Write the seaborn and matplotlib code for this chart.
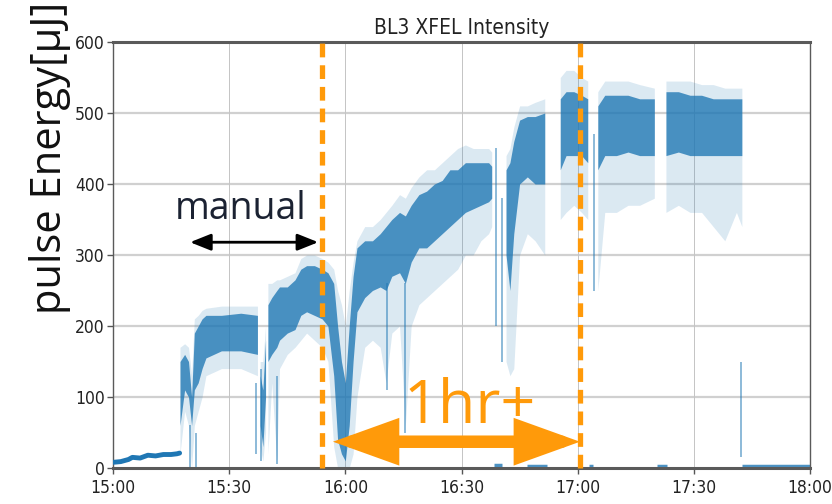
import matplotlib
matplotlib.use('Agg')
import matplotlib.pyplot as plt
from matplotlib import font_manager
import seaborn as sns
import numpy as np
import pandas as pd

# minutes after 15:00
base_t = [0, 2, 4, 5, 7, 9, 11, 13, 15, 16.5, 17.2]
base_v = [8, 9, 12, 15, 14, 18, 17, 19, 19, 20, 21]

# dense band (core) and sparse envelope (outer), per segment
band_seg = [1, 1, 1, 1, 1, 1, 1, 1, 1, 1, 1,
            2, 2, 2,
            3, 3, 3, 3, 3, 3, 3, 3, 3, 3, 3, 3, 3, 3, 3, 3, 3, 3, 3, 3, 3, 3, 3, 3, 3, 3, 3, 3, 3, 3, 3, 3, 3, 3, 3, 3, 3,
            4, 4, 4, 4, 4, 4, 4,
            5, 5, 5, 5, 5,
            6, 6, 6, 6, 6, 6,
            7, 7, 7, 7, 7, 7, 7, 7]
band_t = [17.3, 18.5, 19.5, 20.3, 21, 22, 23, 24, 28, 33, 37.3,
          38.0, 38.7, 39.4,
          40, 41, 42.3, 43, 45, 47, 48.5, 50, 52, 54, 55.5, 57, 58, 59, 60, 61, 62, 63, 65, 67, 69, 70.5,
          72, 74, 75.5, 77, 79, 81, 83, 85, 87, 89, 91, 93, 95, 97, 97.8,
          101.5, 102.5, 103.5, 105, 107, 109, 111.5,
          115.5, 117, 119, 121, 122.6,
          125.2, 127, 130, 133, 136, 139.8,
          142.8, 146, 149, 152, 155, 158, 161, 162.4]
core_lo = [60, 110, 100, 60, 110, 120, 140, 155, 165, 165, 160,
           60, 30, 100,
           150, 160, 170, 180, 190, 195, 215, 220, 215, 210, 200, 130, 40, 20, 10, 60, 150, 220, 240, 250, 255, 250,
           270, 275, 260, 290, 310, 310, 320, 330, 340, 350, 360, 365, 370, 375, 380,
           300, 250, 330, 400, 410, 400, 400,
           420, 440, 440, 440, 430,
           420, 440, 440, 445, 440, 440,
           440, 445, 440, 440, 440, 440, 440, 440]
core_hi = [150, 160, 150, 100, 190, 200, 210, 215, 215, 218, 215,
           130, 110, 180,
           230, 240, 250, 255, 255, 265, 280, 285, 285, 280, 275, 260, 200, 150, 120, 200, 270, 310, 320, 320, 330, 340,
           350, 360, 355, 370, 385, 390, 400, 405, 420, 420, 430, 430, 430, 430, 425,
           420, 430, 460, 490, 495, 495, 500,
           520, 530, 530, 525, 520,
           510, 525, 525, 525, 520, 520,
           530, 530, 525, 525, 520, 520, 520, 520]
out_lo = [20, 80, 60, 0, 60, 80, 100, 130, 140, 140, 130,
          30, 10, 50,
          20, 120, 10, 140, 160, 170, 180, 190, 180, 170, 150, 30, 0, 0, 0, 0, 20, 100, 170, 180, 170, 120,
          190, 200, 60, 200, 230, 240, 250, 260, 270, 280, 300, 300, 320, 330, 340,
          150, 130, 140, 300, 330, 320, 300,
          350, 360, 370, 360, 350,
          250, 360, 360, 370, 370, 380,
          360, 370, 360, 360, 340, 320, 360, 340]
out_hi = [170, 175, 170, 130, 210, 215, 222, 225, 228, 228, 228,
          150, 150, 200,
          260, 260, 265, 265, 270, 275, 295, 300, 300, 295, 290, 280, 250, 230, 200, 250, 290, 320, 340, 340, 350, 360,
          370, 385, 380, 395, 410, 420, 420, 430, 440, 450, 455, 450, 450, 450, 445,
          440, 450, 480, 510, 510, 515, 520,
          550, 560, 560, 550, 545,
          530, 545, 545, 545, 540, 535,
          545, 545, 545, 540, 540, 535, 535, 535]

# isolated drops
dip_t = [19.9, 21.5, 37.0, 38.2, 42.4, 70.8, 75.5, 99, 100.5, 124.3, 162.3]
dip_lo = [0, 0, 20, 10, 5, 110, 50, 200, 150, 250, 15]
dip_hi = [60, 50, 120, 140, 130, 260, 260, 450, 380, 470, 150]

# beam-off stretches near zero
off_t0 = [98.5, 107, 123, 140.5, 162.4]
off_t1 = [100.5, 112, 124, 143, 180]
off_v = [4, 3, 3, 3, 3]

manual_t = [19.9, 53.0]
manual_v = 318
onehr_t = [56.8, 120.6]
onehr_v = 37
mark_t = [54.0, 120.5]

xticks = [0, 30, 60, 90, 120, 150, 180]
xticklabels = ['15:00', '15:30', '16:00', '16:30', '17:00', '17:30', '18:00']
yticks = [0, 100, 200, 300, 400, 500, 600]

BLUE = '#1f77b4'
ORANGE = '#ff9a0a'

sns.set_style("white")
fonts = font_manager.fontManager.ttflist
has_cond = any(f.name == 'DejaVu Sans' and f.stretch == 'condensed' for f in fonts)
if has_cond:
    tick_font = dict(family='DejaVu Sans', stretch='condensed')
else:
    tick_font = dict(family='Liberation Sans')
plt.rcParams['font.family'] = ['DejaVu Sans']

fig = plt.figure(figsize=(8.32, 5.04), dpi=100)
ax = fig.add_axes([113 / 832, 36 / 504, 697 / 832, 426 / 504])

# grid
for y in yticks[1:-1]:
    ax.axhline(y, color='#d0d0d0', lw=1.6, zorder=0)
for x in xticks[1:-1]:
    ax.axvline(x, color='#c4c4c4', lw=0.7, zorder=0)

band = pd.DataFrame({'seg': band_seg, 't': band_t, 'clo': core_lo, 'chi': core_hi,
                     'olo': out_lo, 'ohi': out_hi})
for _, g in band.groupby('seg'):
    ax.fill_between(g['t'], g['olo'], g['ohi'], color=BLUE, alpha=0.16, lw=0, zorder=2)
    ax.fill_between(g['t'], g['clo'], g['chi'], color=BLUE, alpha=0.78, lw=0, zorder=3)

ax.vlines(dip_t, dip_lo, dip_hi, color=BLUE, lw=1.3, alpha=0.55, zorder=2)
ax.hlines(off_v, off_t0, off_t1, color=BLUE, lw=2.5, alpha=0.8, zorder=2)
sns.lineplot(x=base_t, y=base_v, ax=ax, color=BLUE, lw=3.5, zorder=3)

# markers of interest
for t in mark_t:
    ax.plot([t, t], [0, 605], color=ORANGE, lw=3.8, dashes=(2.6, 1.5), zorder=6, clip_on=False)

ax.annotate('', xy=(manual_t[1], manual_v), xytext=(manual_t[0], manual_v),
            arrowprops=dict(arrowstyle='<|-|>,head_length=0.7,head_width=0.28', color='black',
                            lw=2, mutation_scale=18, shrinkA=0, shrinkB=0), zorder=7)
ax.text(33, 365, 'manual', fontsize=27, family=['Open Sans', 'DejaVu Sans'], color='#1b2232',
        ha='center', va='center', zorder=7)

ax.annotate('', xy=(onehr_t[1], onehr_v), xytext=(onehr_t[0], onehr_v),
            arrowprops=dict(arrowstyle='<|-|>,head_length=1.0,head_width=0.36', color=ORANGE,
                            lw=9, mutation_scale=30, shrinkA=0, shrinkB=0, joinstyle='miter'), zorder=7)
ax.text(92, 86, '1hr+', fontsize=44, family=['Open Sans', 'DejaVu Sans'], color=ORANGE,
        ha='center', va='center', zorder=7)

ax.set_xlim(0, 180)
ax.set_ylim(0, 600)
ax.set_xticks(xticks)
ax.set_xticklabels(xticklabels, **tick_font)
ax.set_yticks(yticks)
ax.set_yticklabels([str(v) for v in yticks], **tick_font)
ax.tick_params(axis='both', labelsize=12.5, length=4, width=1, color='#555555', colors='#222222',
               direction='out', bottom=True, left=True, pad=2)
ax.tick_params(axis='x', pad=4)
for side in ['top', 'bottom']:
    ax.spines[side].set_color('#5a5a5a')
    ax.spines[side].set_linewidth(2.2)
for side in ['left', 'right']:
    ax.spines[side].set_color('#5a5a5a')
    ax.spines[side].set_linewidth(1.0)

ax.set_title('BL3 XFEL Intensity', fontsize=15, color='#222222', pad=6, **tick_font)
fig.text(50 / 832, 1 - 158 / 504, 'pulse Energy[μJ]', rotation=90, fontsize=30,
         family=['Open Sans', 'DejaVu Sans'], color='#111111', ha='center', va='center')

fig.savefig('out.png', dpi=100)
